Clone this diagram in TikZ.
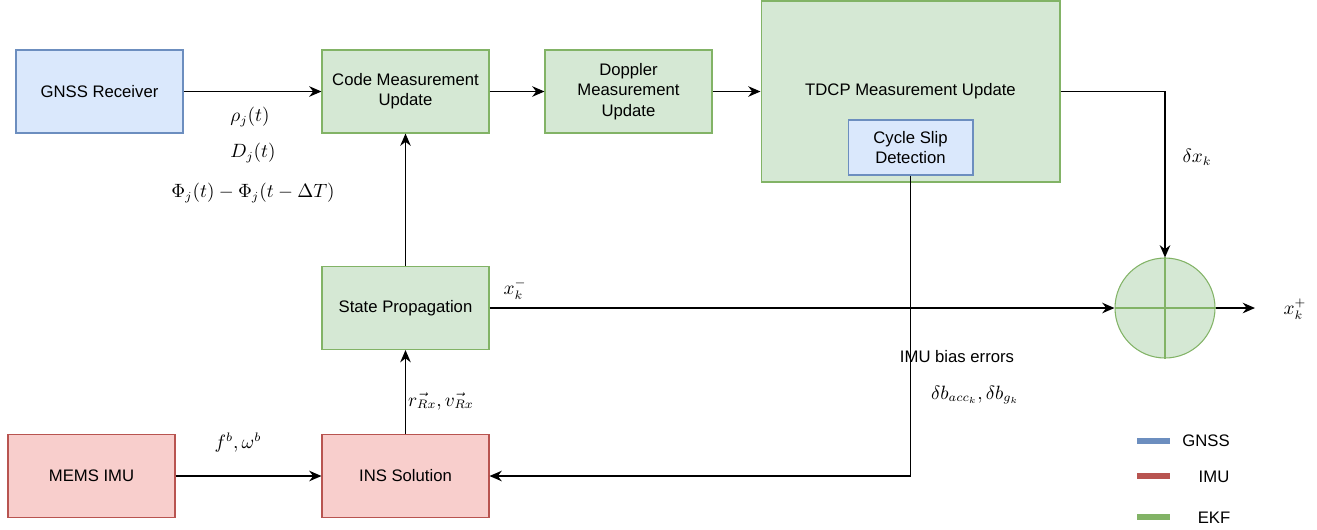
\documentclass[tikz,border=0pt]{standalone}
\usepackage{amsmath}
\usepackage{fontspec}
\setmainfont{Liberation Sans}
\usepackage{xcolor}
\definecolor{bluefill}{HTML}{DAE8FC}
\definecolor{blueline}{HTML}{6C8EBF}
\definecolor{greenfill}{HTML}{D5E8D4}
\definecolor{greenline}{HTML}{82B366}
\definecolor{redfill}{HTML}{F8CECC}
\definecolor{redline}{HTML}{B85450}
\usetikzlibrary{arrows.meta, positioning, calc}

\begin{document}
\begin{tikzpicture}[x=0.02cm, y=-0.02cm,
    every node/.style={font=\fontsize{9.5}{11.5}\selectfont},
    mathlabel/.style={font=\fontsize{10.5}{12}\selectfont},
    block/.style={draw, line width=0.6pt, minimum width=3.34cm, minimum height=1.66cm,
        inner sep=2pt, align=center},
    gnss/.style={block, fill=bluefill, draw=blueline},
    imu/.style={block, fill=redfill, draw=redline},
    ekf/.style={block, fill=greenfill, draw=greenline},
    flow/.style={-{Stealth[length=7pt,width=6pt]}, line width=0.8pt},
    legline/.style={line width=3pt}]
    % Bounding box
    \useasboundingbox (0,0) rectangle (1317,529);

    % Blocks
    \node[gnss] (rcv) at (99.5,91.5) {GNSS Receiver};
    \node[ekf] (code) at (405.5,91.5) {Code Measurement\\Update};
    \node[ekf] (dopp) at (628.5,91.5) {Doppler\\Measurement\\Update};
    \node[ekf, minimum width=5.98cm, minimum height=3.62cm] (tdcp) at (910.5,91.5) {TDCP Measurement Update};
    \node[gnss, minimum width=2.5cm, minimum height=1.1cm] (slip) at (910.5,147.5) {Cycle Slip\\Detection};
    \node[ekf] (prop) at (405.5,308) {State Propagation};
    \node[imu] (mems) at (91.5,476) {MEMS IMU};
    \node[imu] (ins) at (405.5,476) {INS Solution};

    % Summing junction
    \node[circle, draw=greenline, fill=greenfill, line width=0.6pt, minimum size=2cm, inner sep=0pt] (sum) at (1165,308) {};
    \draw[greenline, line width=0.6pt] (sum.north) -- (sum.south);
    \draw[greenline, line width=0.6pt] (sum.west) -- (sum.east);
    \coordinate (out) at (1255,308);

    % Connectors
    \draw[flow] (rcv) -- (code);
    \draw[flow] (code) -- (dopp);
    \draw[flow] (dopp) -- (tdcp.west |- dopp);
    \draw[flow] (tdcp.east |- dopp) -| (sum.north);
    \draw[flow] (prop) -- (code);
    \draw[flow] (ins) -- (prop);
    \draw[flow] (mems) -- (ins);
    \draw[flow] (slip.south) |- (ins.east);
    \draw[flow] (prop.east) -- (sum.west);
    \draw[flow] (sum.east) -- (out);

    % Labels
    \node[mathlabel] at (250,117) {$\rho_j(t)$};
    \node[mathlabel] at (253,153) {$D_j(t)$};
    \node[mathlabel] at (253,193) {$\Phi_j(t)-\Phi_j(t-\Delta T)$};
    \node[mathlabel] at (515,289) {$x_k^-$};
    \node[mathlabel] at (1197,157) {$\delta x_k$};
    \node[mathlabel] at (1295,309) {$x_k^+$};
    \node[mathlabel] at (238,443) {$f^b,\omega^b$};
    \node[mathlabel] at (441,401) {$\vec{r_{Rx}},\vec{v_{Rx}}$};
    \node at (957,357) {IMU bias errors};
    \node[mathlabel] at (975,395) {$\delta b_{acc_k},\delta b_{g_k}$};

    % Legend
    \draw[legline, blueline] (1137,441) -- (1170,441);
    \draw[legline, redline] (1137,476) -- (1170,476);
    \draw[legline, greenline] (1137,517) -- (1170,517);
    \node at (1206,441) {GNSS};
    \node at (1214,477) {IMU};
    \node at (1214,518) {EKF};
\end{tikzpicture}
\end{document}
